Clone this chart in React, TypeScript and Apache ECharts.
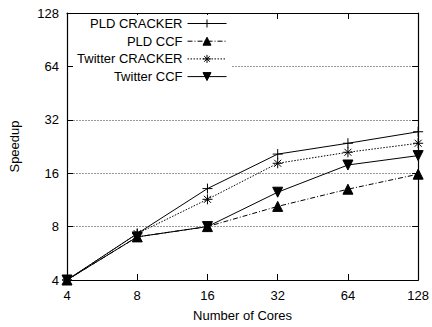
import React, { useEffect, useRef } from "react";
import * as echarts from "echarts";

const cores = [4, 8, 16, 32, 64, 128];
const pldCracker = [4, 7.3, 13.1, 20.5, 23.6, 27.4];
const pldCcf = [4, 7.0, 8.0, 10.4, 13.0, 15.8];
const twitterCracker = [4, 7.3, 11.4, 18.2, 21.0, 23.6];
const twitterCcf = [4, 7.0, 8.0, 12.5, 17.8, 20.1];
const seriesNames = ["PLD CRACKER", "PLD CCF", "Twitter CRACKER", "Twitter CCF"];

const FONT = "Liberation Sans, Arial, Helvetica, sans-serif";
const PLUS = "path://M5,0V10M0,5H10";
const STAR = "path://M5,0V10M0,5H10M1.5,1.5L8.5,8.5M8.5,1.5L1.5,8.5";

export default function App() {
  const ref = useRef<HTMLDivElement>(null);
  useEffect(() => {
    document.body.style.margin = "0";
    const chart = echarts.init(ref.current!, null, { renderer: "svg" });
    const pairs = (ys: number[]) => cores.map((c, i) => [c, ys[i]]);
    const mk = (
      name: string,
      ys: number[],
      symbol: string,
      size: number,
      type: any,
      rotate = 0
    ) => ({
      name,
      type: "line",
      data: pairs(ys),
      symbol,
      symbolSize: size,
      symbolRotate: rotate,
      showSymbol: true,
      lineStyle: { color: "#000", width: 1, type },
      itemStyle: { color: "#000", borderColor: "#000", borderWidth: 1 },
      z: 3,
    });
    const xBase = {
      type: "log",
      logBase: 2,
      min: 4,
      max: 128,
      axisLine: { show: true, lineStyle: { color: "#000", width: 1.2 } },
      axisTick: { show: true, inside: true, length: 6, lineStyle: { color: "#000" } },
      minorTick: { show: false },
      splitLine: { show: false },
    };
    const yBase = {
      type: "log",
      logBase: 2,
      min: 4,
      max: 128,
      axisLine: { show: true, lineStyle: { color: "#000", width: 1.2 } },
      axisTick: { show: true, inside: true, length: 6, lineStyle: { color: "#000" } },
    };
    chart.setOption({
      animation: false,
      backgroundColor: "#fff",
      textStyle: { fontFamily: FONT },
      grid: { left: 66, right: 11, top: 13, bottom: 47, containLabel: false },
      legend: {
        data: seriesNames,
        orient: "vertical",
        align: "right",
        right: 200,
        top: 15,
        itemWidth: 39,
        itemHeight: 10,
        itemGap: 4.7,
        padding: [2, 5, 2, 4],
        backgroundColor: "#fff",
        textStyle: { fontFamily: FONT, fontSize: 13, color: "#000" },
        lineStyle: { width: 1 },
        itemStyle: { borderWidth: 1 },
        inactiveColor: "#000",
        z: 5,
      },
      xAxis: [
        {
          ...xBase,
          position: "bottom",
          name: "Number of Cores",
          nameLocation: "middle",
          nameGap: 29,
          nameTextStyle: { fontFamily: FONT, fontSize: 13, color: "#000" },
          axisLabel: { fontFamily: FONT, fontSize: 13, color: "#000", margin: 9 },
        },
        {
          ...xBase,
          position: "top",
          axisLabel: { show: false },
        },
      ],
      yAxis: [
        {
          ...yBase,
          position: "left",
          name: "Speedup",
          nameLocation: "middle",
          nameGap: 46,
          nameTextStyle: { fontFamily: FONT, fontSize: 13, color: "#000" },
          axisLabel: { fontFamily: FONT, fontSize: 13, color: "#000", margin: 8 },
          splitLine: { show: true, lineStyle: { color: "#999", type: [2, 1], width: 1 } },
          minorTick: { show: false },
        },
        {
          ...yBase,
          position: "right",
          axisLabel: { show: false },
          splitLine: { show: false },
        },
      ],
      series: [
        mk(seriesNames[0], pldCracker, PLUS, 10, "solid"),
        mk(seriesNames[1], pldCcf, "triangle", 10, [5, 2, 1, 2]),
        mk(seriesNames[2], twitterCracker, STAR, 10, [1.5, 1.5]),
        mk(seriesNames[3], twitterCcf, "triangle", 10, "solid", 180),
      ],
    });
    return () => chart.dispose();
  }, []);
  return <div ref={ref} style={{ width: 432, height: 327 }} />;
}
